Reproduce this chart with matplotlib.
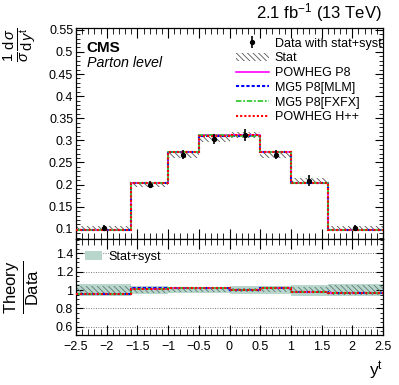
import numpy as np
import matplotlib
matplotlib.use("Agg")
import matplotlib.pyplot as plt
from matplotlib.patches import Patch
from matplotlib.lines import Line2D
from matplotlib.ticker import MultipleLocator
from matplotlib.container import ErrorbarContainer
from matplotlib.collections import LineCollection

plt.rcParams['font.family'] = ['Liberation Sans', 'DejaVu Sans']
plt.rcParams['mathtext.fontset'] = 'custom'
plt.rcParams['mathtext.rm'] = 'Liberation Sans'
plt.rcParams['mathtext.it'] = 'Liberation Sans:italic'
plt.rcParams['mathtext.bf'] = 'Liberation Sans:bold'
plt.rcParams['hatch.linewidth'] = 0.6

# ---- data ----
bin_edges = [-2.5, -1.6, -1.0, -0.5, 0.0, 0.5, 1.0, 1.6, 2.5]
data_vals = [0.102, 0.200, 0.268, 0.303, 0.312, 0.268, 0.209, 0.101]
stat_unc = [0.005, 0.006, 0.007, 0.007, 0.007, 0.007, 0.006, 0.005]
total_rel_unc = [0.065, 0.040, 0.035, 0.035, 0.045, 0.040, 0.060, 0.065]
powheg_p8 = [0.0975, 0.203, 0.274, 0.311, 0.311, 0.274, 0.204, 0.0975]
mg5_mlm = [0.0977, 0.2035, 0.2738, 0.3105, 0.3108, 0.2742, 0.2042, 0.0976]
mg5_fxfx = [0.0976, 0.2032, 0.2742, 0.3112, 0.3105, 0.2738, 0.2038, 0.0978]
powheg_hpp = [0.0974, 0.2028, 0.2736, 0.3108, 0.3112, 0.2736, 0.2041, 0.0974]

models = [
    ("POWHEG P8", powheg_p8, dict(color='#ff00ff', ls='-', lw=1.2)),
    ("MG5 P8[MLM]", mg5_mlm, dict(color='#0000ff', ls=(0, (1.5, 1.0)), lw=1.5)),
    ("MG5 P8[FXFX]", mg5_fxfx, dict(color='#33cc33', ls=(0, (3, 1, 1, 1)), lw=1.3)),
    ("POWHEG H++", powheg_hpp, dict(color='#ff0000', ls=(0, (1, 1)), lw=1.5)),
]

edges = np.array(bin_edges)
centers = 0.5 * (edges[:-1] + edges[1:])
data = np.array(data_vals)
stat = np.array(stat_unc)
tot = np.array(total_rel_unc) * data

W, H = 399, 385
fig = plt.figure(figsize=(W / 100, H / 100), dpi=100)
left, right = 76 / W, 383 / W
ax = fig.add_axes([left, 1 - 239 / H, right - left, (239 - 28) / H])
axr = fig.add_axes([left, 1 - 335 / H, right - left, (335 - 239) / H])

def step(ax, vals, **kw):
    v = np.asarray(vals)
    ax.stairs(v, edges, baseline=None, **kw)

HATCH = '\\\\\\\\\\\\'
# main: stat hatch band around data
for i in range(len(data)):
    ax.fill_between([edges[i], edges[i + 1]], data[i] - stat[i], data[i] + stat[i],
                    facecolor='none', edgecolor='#555555', hatch=HATCH, lw=0, zorder=1)
for name, vals, st in models:
    step(ax, vals, zorder=3, **st)
eb = ax.errorbar(centers, data, yerr=tot, fmt='o', color='black', ms=2.8, elinewidth=1.2,
                 capsize=0, zorder=5)

ax.set_xlim(-2.5, 2.5)
ax.set_ylim(0.077, 0.554)
ax.yaxis.set_major_locator(MultipleLocator(0.05))
ax.yaxis.set_minor_locator(MultipleLocator(0.01))
ax.xaxis.set_major_locator(MultipleLocator(0.5))
ax.xaxis.set_minor_locator(MultipleLocator(0.1))
ax.tick_params(which='both', direction='in', top=True, right=True, labelbottom=False,
               labelsize=9, pad=2)
ax.tick_params(which='major', length=7, axis='x')
ax.tick_params(which='minor', length=4, axis='x')
ax.tick_params(which='major', length=6, axis='y')
ax.tick_params(which='minor', length=3, axis='y')
ax.set_yticklabels([f"{t:g}" for t in ax.get_yticks()])

# legend main
h_stat = Patch(facecolor='none', edgecolor='#555555', hatch=HATCH, lw=0)
handles = [eb, h_stat] + [Line2D([], [], **st) for _, _, st in models]
labels = ["Data with stat+syst", "Stat"] + [m[0] for m in models]
leg = ax.legend(handles, labels, loc='upper right', bbox_to_anchor=(1.02, 0.99), frameon=False,
                fontsize=9, handlelength=2.6, handletextpad=0.5, labelspacing=0.22,
                borderaxespad=0.2)

ax.text(0.035, 0.905, "CMS", transform=ax.transAxes, fontsize=11, fontweight='bold',
        va='center', ha='left')
ax.text(0.035, 0.835, "Parton level", transform=ax.transAxes, fontsize=10.3, style='italic',
        va='center', ha='left')
fig.text(right - 1 / W, 1 - 13 / H, r"2.1 fb$^{-1}$ (13 TeV)", ha='right', va='center', fontsize=12)
fig.text(20 / W, 1 - 45 / H, r"$\frac{1}{\sigma}\frac{\mathrm{d}\,\sigma}{\mathrm{d}\,y^{\mathrm{t}}}$",
         rotation=90, ha='center', va='center', fontsize=15)

# ratio panel
for yv in [0.6, 0.8, 1.0, 1.2, 1.4]:
    axr.axhline(yv, color='#777777', ls=(0, (1, 1.5)), lw=0.7, zorder=0)
rel_tot = np.array(total_rel_unc)
rel_stat = stat / data
for i in range(len(data)):
    axr.fill_between([edges[i], edges[i + 1]], 1 - rel_tot[i], 1 + rel_tot[i],
                     facecolor='#b8d6cc', edgecolor='none', lw=0, zorder=1)
    axr.fill_between([edges[i], edges[i + 1]], 1 - rel_stat[i], 1 + rel_stat[i],
                     facecolor='none', edgecolor='#5f7a74', hatch=HATCH, lw=0, zorder=2)
for name, vals, st in models:
    step(axr, np.array(vals) / data, zorder=3, **st)
axr.set_xlim(-2.5, 2.5)
axr.set_ylim(0.51, 1.556)
axr.yaxis.set_major_locator(MultipleLocator(0.2))
axr.yaxis.set_minor_locator(MultipleLocator(0.05))
axr.xaxis.set_major_locator(MultipleLocator(0.5))
axr.xaxis.set_minor_locator(MultipleLocator(0.1))
axr.tick_params(which='both', direction='in', top=True, right=True, labelsize=9, pad=2)
axr.tick_params(which='major', length=7, axis='x')
axr.tick_params(which='minor', length=4, axis='x')
axr.tick_params(which='major', length=5, axis='y')
axr.tick_params(which='minor', length=2.5, axis='y')
axr.tick_params(axis='x', pad=4)
axr.set_yticks([0.6, 0.8, 1.0, 1.2, 1.4])
axr.set_yticklabels(["0.6", "0.8", "1", "1.2", "1.4"])
xt = np.arange(-2.5, 2.51, 0.5)
axr.set_xticks(xt)
axr.set_xticklabels([f"{t:g}".replace('-', '\u2212') for t in xt])
axr.legend([Patch(facecolor='#b8d6cc', edgecolor='none')], ["Stat+syst"], loc='upper left',
           frameon=False, fontsize=9, handlelength=1.4, handletextpad=0.5,
           borderaxespad=0.3, bbox_to_anchor=(0.0, 0.97))
fig.text(22 / W, 1 - 287 / H, r"$\frac{\mathrm{Theory}}{\mathrm{Data}}$", rotation=90,
         ha='center', va='center', fontsize=17)
fig.text(376 / W, 1 - 371 / H, r"y$^{\mathrm{t}}$", ha='center', va='center', fontsize=12.5)

for a in (ax, axr):
    for s in a.spines.values():
        s.set_linewidth(0.9)

fig.savefig("out.png", dpi=100)
